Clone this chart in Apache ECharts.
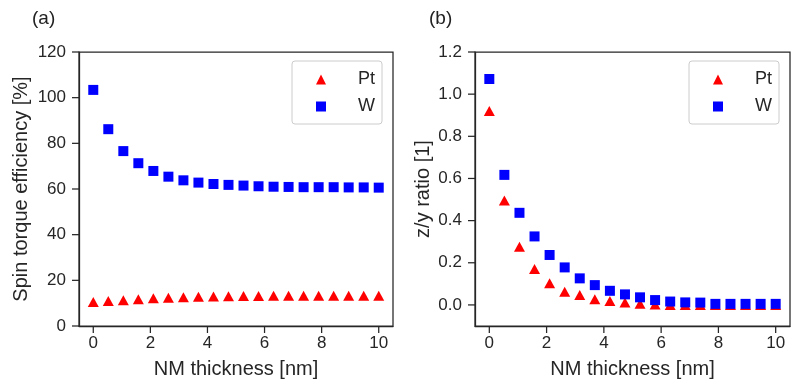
<!DOCTYPE html>
<html>
<head>
<meta charset="utf-8">
<script src="https://cdn.jsdelivr.net/npm/echarts@6/dist/echarts.min.js"></script>
<style>html,body{margin:0;padding:0;background:#fff;}#c{width:800px;height:390px;}</style>
</head>
<body>
<div id="c"></div>
<script>
const thickness = [0, 0.526, 1.053, 1.579, 2.105, 2.632, 3.158, 3.684, 4.211, 4.737, 5.263, 5.789, 6.316, 6.842, 7.368, 7.895, 8.421, 8.947, 9.474, 10];
const effPt = [10.5, 10.9, 11.3, 11.7, 12.1, 12.4, 12.6, 12.8, 12.9, 13.0, 13.1, 13.1, 13.2, 13.2, 13.2, 13.2, 13.3, 13.3, 13.3, 13.3];
const effW = [103.4, 86.2, 76.6, 71.3, 67.9, 65.4, 63.8, 62.8, 62.2, 61.8, 61.5, 61.2, 61.0, 60.9, 60.8, 60.8, 60.8, 60.7, 60.7, 60.6];
const ratioPt = [0.92, 0.495, 0.276, 0.17, 0.103, 0.063, 0.047, 0.027, 0.019, 0.011, 0.005, 0.002, 0.0, 0.0, 0.0, 0.0, 0.0, 0.0, 0.0, 0.0];
const ratioW = [1.072, 0.617, 0.437, 0.325, 0.237, 0.178, 0.126, 0.094, 0.067, 0.050, 0.036, 0.023, 0.016, 0.012, 0.011, 0.005, 0.005, 0.005, 0.005, 0.005];
const xTicks = [0, 2, 4, 6, 8, 10];
const effTicks = [0, 20, 40, 60, 80, 100, 120];
const ratioTicks = [0, 0.2, 0.4, 0.6, 0.8, 1.0, 1.2];
const seriesNames = ['Pt', 'W'];
const xMin = -0.5, xMax = 10.5;
const effMin = 0, effMax = 120;
const ratioMin = -0.1, ratioMax = 1.2;

const FONT = "'Liberation Sans', Arial, sans-serif";
const TXT = '#262626';
const TICK_LEN = 7;
const pairs = (xs, ys) => xs.map((x, i) => [x, ys[i]]);

function xAx(gi) {
  return {
    type: 'value', gridIndex: gi, min: xMin, max: xMax,
    name: 'NM thickness [nm]', nameLocation: 'middle', nameGap: 33,
    nameTextStyle: {fontFamily: FONT, fontSize: 20, color: TXT},
    axisLine: {show: true, onZero: false, lineStyle: {color: TXT, width: 1.25}},
    axisTick: {show: false},
    axisLabel: {fontFamily: FONT, fontSize: 17, color: TXT, margin: 9, customValues: xTicks.slice()},
    splitLine: {show: false}
  };
}
function yAx(gi, min, max, ticks, name, gap, dec) {
  return {
    type: 'value', gridIndex: gi, min: min, max: max,
    name: name, nameLocation: 'middle', nameGap: gap,
    nameTextStyle: {fontFamily: FONT, fontSize: 20, color: TXT},
    axisLine: {show: true, onZero: false, lineStyle: {color: TXT, width: 1.25}},
    axisTick: {show: false},
    axisLabel: {fontFamily: FONT, fontSize: 17, color: TXT, margin: 13, customValues: ticks.slice(),
      formatter: v => v.toFixed(dec)},
    splitLine: {show: false}
  };
}
function legend(left) {
  return {
    left: left, top: 61, orient: 'vertical', data: seriesNames.slice(),
    itemWidth: 10, itemHeight: 10, itemGap: 6,
    padding: [8, 7, 7, 24],
    borderColor: '#cccccc', borderWidth: 1, borderRadius: 3,
    backgroundColor: 'rgba(255,255,255,0.8)',
    textStyle: {fontFamily: FONT, fontSize: 18, color: TXT, lineHeight: 21, padding: [0, 0, 0, 27]}
  };
}
function sc(name, gi, xs, ys) {
  const tri = name === 'Pt';
  return {
    type: 'scatter', name: name, xAxisIndex: gi, yAxisIndex: gi,
    data: pairs(xs, ys),
    symbol: tri ? 'triangle' : 'rect',
    symbolSize: tri ? [11, 10] : 10,
    itemStyle: {color: tri ? '#ff0000' : '#0000ff', opacity: 1},
    z: tri ? 2 : 3
  };
}

const chart = echarts.init(document.getElementById('c'), null, {renderer: 'canvas'});
chart.setOption({
  animation: false,
  backgroundColor: '#ffffff',
  title: [
    {text: '(a)', left: 27, top: 4, textStyle: {fontFamily: FONT, fontSize: 19, fontWeight: 'normal', color: '#222'}},
    {text: '(b)', left: 424, top: 4, textStyle: {fontFamily: FONT, fontSize: 19, fontWeight: 'normal', color: '#222'}}
  ],
  grid: [
    {left: 79, right: 407, top: 52, bottom: 64, show: true, borderColor: TXT, borderWidth: 1.25, backgroundColor: 'transparent'},
    {left: 475, right: 10, top: 52, bottom: 64, show: true, borderColor: TXT, borderWidth: 1.25, backgroundColor: 'transparent'}
  ],
  xAxis: [xAx(0), xAx(1)],
  yAxis: [
    yAx(0, effMin, effMax, effTicks, 'Spin torque efficiency [%]', 48, 0),
    yAx(1, ratioMin, ratioMax, ratioTicks, 'z/y ratio [1]', 42, 1)
  ],
  legend: [legend(292), legend(689)],
  series: [
    sc('Pt', 0, thickness, effPt),
    sc('W', 0, thickness, effW),
    sc('Pt', 1, thickness, ratioPt),
    sc('W', 1, thickness, ratioW)
  ]
});

// Outward tick marks for both panels, placed through each panel's own axis scales.
const tickGraphics = [];
function addTicks(gi, xs, ys, yBottom, xLeft) {
  xs.forEach(v => {
    const p = chart.convertToPixel({gridIndex: gi}, [v, yBottom]);
    tickGraphics.push({type: 'line', z: 100, silent: true,
      shape: {x1: p[0], y1: p[1], x2: p[0], y2: p[1] + TICK_LEN},
      style: {stroke: TXT, lineWidth: 1.25}});
  });
  ys.forEach(v => {
    const p = chart.convertToPixel({gridIndex: gi}, [xLeft, v]);
    tickGraphics.push({type: 'line', z: 100, silent: true,
      shape: {x1: p[0] - TICK_LEN, y1: p[1], x2: p[0], y2: p[1]},
      style: {stroke: TXT, lineWidth: 1.25}});
  });
}
addTicks(0, xTicks, effTicks, effMin, xMin);
addTicks(1, xTicks, ratioTicks, ratioMin, xMin);
chart.setOption({graphic: {elements: tickGraphics}});
</script>
</body>
</html>
